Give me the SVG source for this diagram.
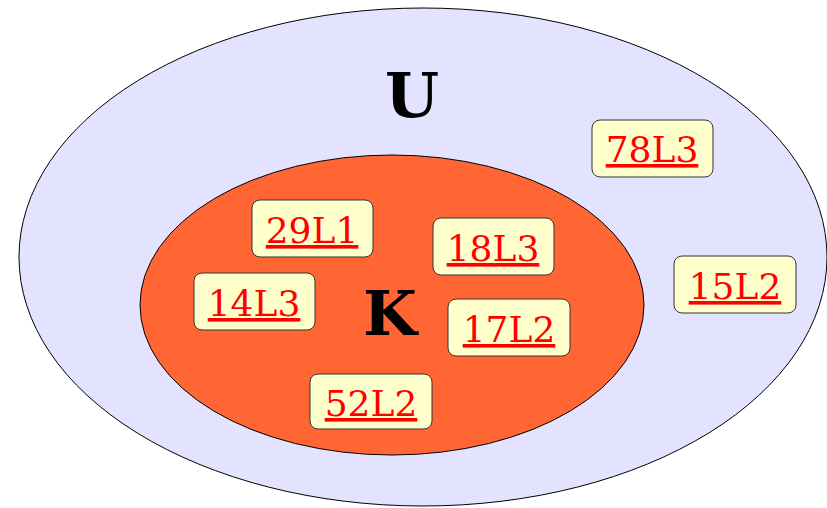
<svg xmlns="http://www.w3.org/2000/svg" width="827" height="508" viewBox="0 0 827 508">
<style>
.box{fill:#ffffcc;stroke:#333333;stroke-width:1}
.lbl{font-family:"DejaVu Serif",serif;font-size:36px;fill:#ff0000;text-decoration:underline;text-anchor:middle}
.big{font-family:"DejaVu Serif",serif;font-weight:bold;font-size:62px;fill:#000000;text-anchor:middle}
</style>
<g id="U">
<ellipse cx="423" cy="257" rx="404" ry="249" fill="#e3e3ff" stroke="#000" stroke-width="1"/>
<text class="big" x="412" y="117">U</text>
</g>
<g id="K">
<ellipse cx="392" cy="305" rx="252" ry="150" fill="#ff6633" stroke="#000" stroke-width="1"/>
<text class="big" x="390" y="335">K</text>
</g>
<g id="n78L3"><rect class="box" x="592" y="120" width="121" height="57" rx="8"/><text class="lbl" x="652" y="162">78L3</text></g>
<g id="n29L1"><rect class="box" x="252" y="200" width="121" height="57" rx="8"/><text class="lbl" x="312" y="243">29L1</text></g>
<g id="n18L3"><rect class="box" x="433" y="218" width="121" height="57" rx="8"/><text class="lbl" x="493" y="261">18L3</text></g>
<g id="n14L3"><rect class="box" x="194" y="273" width="121" height="57" rx="8"/><text class="lbl" x="254" y="316">14L3</text></g>
<g id="n15L2"><rect class="box" x="674" y="256" width="122" height="57" rx="8"/><text class="lbl" x="735" y="299">15L2</text></g>
<g id="n17L2"><rect class="box" x="448" y="299" width="122" height="57" rx="8"/><text class="lbl" x="509" y="342">17L2</text></g>
<g id="n52L2"><rect class="box" x="310" y="374" width="122" height="55" rx="8"/><text class="lbl" x="371" y="416">52L2</text></g>
<g id="connectors"/>
</svg>
